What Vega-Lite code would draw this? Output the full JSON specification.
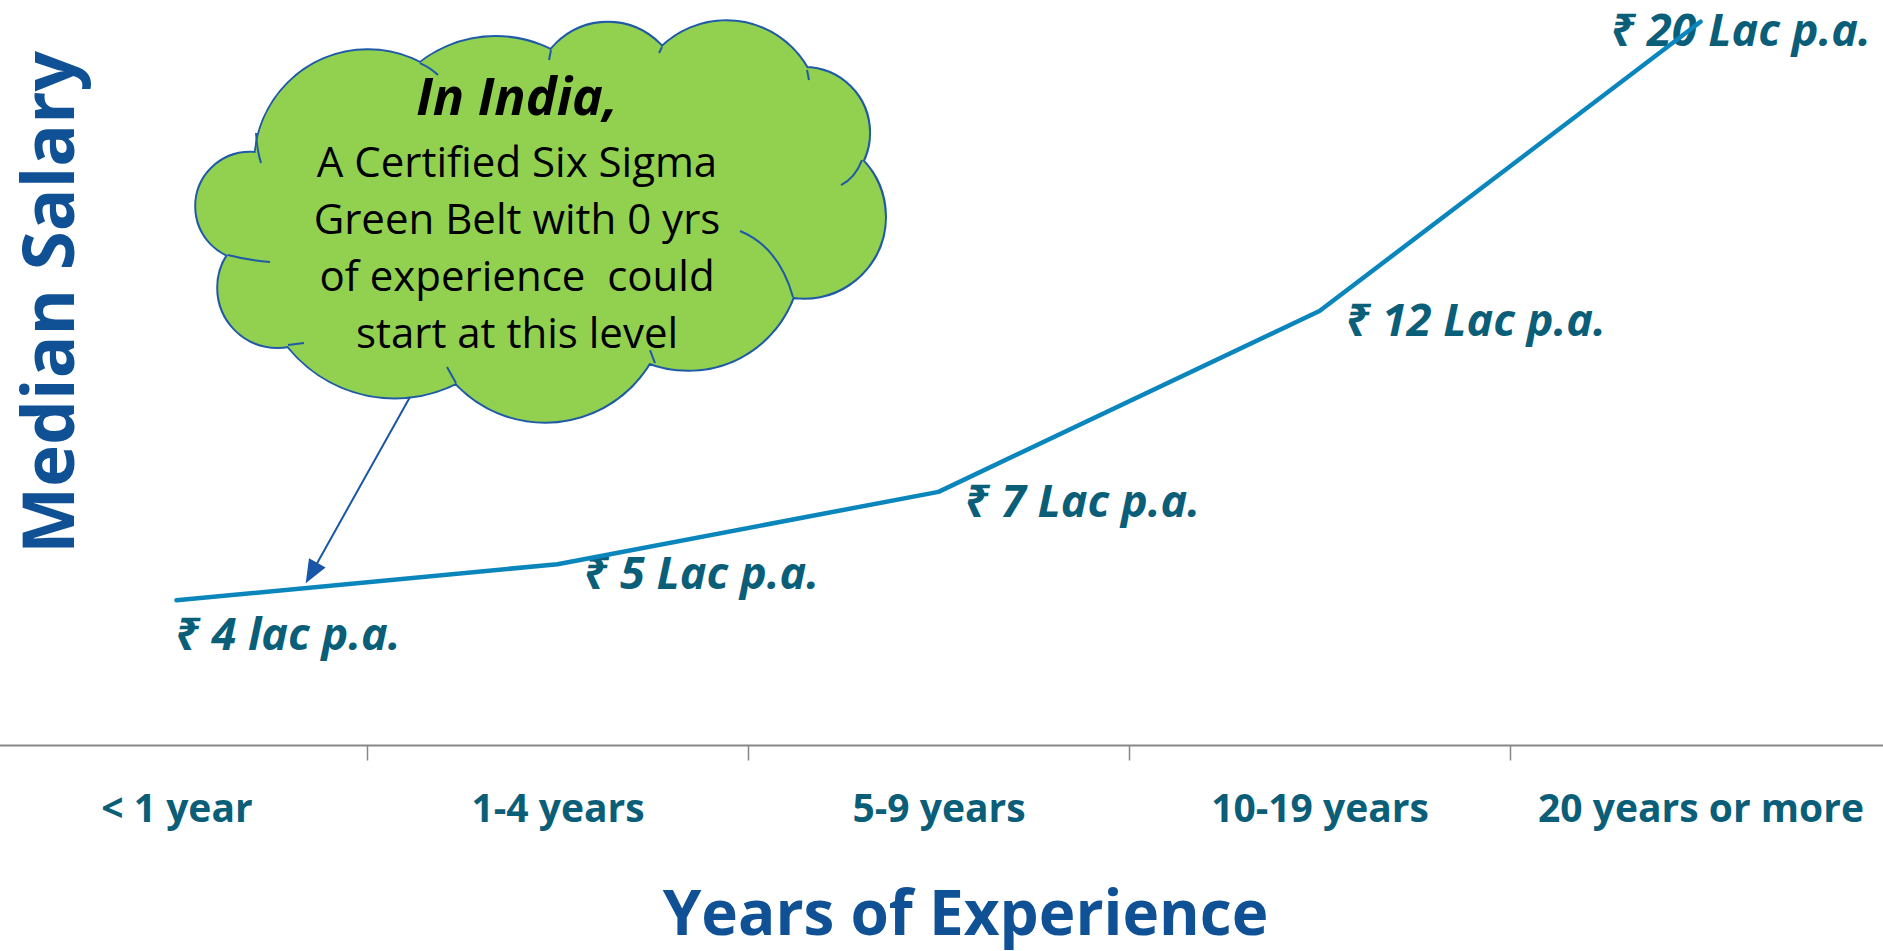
{
  "$schema": "https://vega.github.io/schema/vega-lite/v6.json",
  "width": 1905,
  "height": 745,
  "autosize": "none",
  "padding": {"left": -14, "right": -8, "top": 0, "bottom": 206},
  "background": "white",
  "config": {"view": {"stroke": null}, "font": "Open Sans"},
  "datasets": {
    "salary": [
      {"exp": "< 1 year", "salary": 4, "label": "₹ 4 lac p.a."},
      {"exp": "1-4 years", "salary": 5, "label": "₹ 5 Lac p.a."},
      {"exp": "5-9 years", "salary": 7, "label": "₹ 7 Lac p.a."},
      {"exp": "10-19 years", "salary": 12, "label": "₹ 12 Lac p.a."},
      {"exp": "20 years or more", "salary": 20, "label": "₹ 20 Lac p.a."}
    ],
    "note": [
      {"exp": "< 1 year", "salary": 4, "heading": "In India,", "body": ["A Certified Six Sigma", "Green Belt with 0 yrs", "of experience \u00a0could", "start at this level"]}
    ]
  },
  "encoding": {
    "x": {
      "field": "exp", "type": "nominal",
      "sort": ["< 1 year", "1-4 years", "5-9 years", "10-19 years", "20 years or more"],
      "scale": {"type": "band", "paddingInner": 0, "paddingOuter": 0},
      "axis": {
        "orient": "bottom", "domainColor": "#878787", "domainWidth": 2,
        "tickColor": "#878787", "tickWidth": 1.5, "tickSize": 15, "tickBand": "extent",
        "labelFont": "Open Sans", "labelFontSize": 39, "labelFontWeight": "bold",
        "labelColor": "#0b5e78", "labelPadding": 61, "labelBaseline": "alphabetic",
        "labelAngle": 0, "labelLimit": 1000, "labelOverlap": false, "grid": false,
        "title": "Years of Experience", "titleFont": "Open Sans", "titleFontSize": 62,
        "titleFontWeight": "bold", "titleColor": "#0f5194", "titleX": 979, "titleY": 189,
        "titleAlign": "center", "titleBaseline": "alphabetic", "titleLimit": 2000
      }
    },
    "y": {
      "field": "salary", "type": "quantitative",
      "scale": {"domain": [0, 20.6], "nice": false, "zero": true},
      "axis": {
        "domain": false, "ticks": false, "labels": false, "grid": false,
        "title": "Median Salary", "titleFont": "Open Sans", "titleFontSize": 71,
        "titleFontWeight": "bold", "titleColor": "#0f5194", "titleAngle": -90,
        "titleX": 87, "titleY": 302, "titleAlign": "center", "titleBaseline": "alphabetic",
        "titleLimit": 2000
      }
    }
  },
  "layer": [
    {
      "data": {"name": "note"},
      "mark": {
        "type": "point", "filled": true, "opacity": 1, "size": 4,
        "fill": "#92d050", "stroke": "#1f5aa6", "strokeWidth": 4,
        "shape": "M19.7,-394.2 A53.5,53.5 0 1 0 126.7,-394.2 A53.5,53.5 0 1 0 19.7,-394.2 Z M41.7,-312.6 A59.3,59.3 0 1 0 160.3,-312.6 A59.3,59.3 0 1 0 41.7,-312.6 Z M81.8,-339.4 A136.5,136.5 0 1 0 354.8,-339.4 A136.5,136.5 0 1 0 81.8,-339.4 Z M246.7,-300.5 A121.9,121.9 0 1 0 490.5,-300.5 A121.9,121.9 0 1 0 246.7,-300.5 Z M400.4,-342 A111.5,111.5 0 1 0 623.4,-342 A111.5,111.5 0 1 0 400.4,-342 Z M546.3,-383.7 A81.1,81.1 0 1 0 708.5,-383.7 A81.1,81.1 0 1 0 546.3,-383.7 Z M563.2,-467.7 A64.7,64.7 0 1 0 692.6,-467.7 A64.7,64.7 0 1 0 563.2,-467.7 Z M456.8,-486 A93,93 0 1 0 642.8,-486 A93,93 0 1 0 456.8,-486 Z M358.5,-504.7 A72.8,72.8 0 1 0 504.1,-504.7 A72.8,72.8 0 1 0 358.5,-504.7 Z M195.9,-439.9 A123.4,123.4 0 1 0 442.7,-439.9 A123.4,123.4 0 1 0 195.9,-439.9 Z M78.8,-437.4 A112.6,112.6 0 1 0 304,-437.4 A112.6,112.6 0 1 0 78.8,-437.4 Z M113.5,-380.3 A250,130 0 1 0 613.5,-380.3 A250,130 0 1 0 113.5,-380.3 Z"
      }
    },
    {
      "data": {"name": "note"},
      "mark": {
        "type": "point", "filled": true, "opacity": 1, "size": 4,
        "fill": "#92d050", "strokeWidth": 0,
        "shape": "M19.7,-394.2 A53.5,53.5 0 1 0 126.7,-394.2 A53.5,53.5 0 1 0 19.7,-394.2 Z M41.7,-312.6 A59.3,59.3 0 1 0 160.3,-312.6 A59.3,59.3 0 1 0 41.7,-312.6 Z M81.8,-339.4 A136.5,136.5 0 1 0 354.8,-339.4 A136.5,136.5 0 1 0 81.8,-339.4 Z M246.7,-300.5 A121.9,121.9 0 1 0 490.5,-300.5 A121.9,121.9 0 1 0 246.7,-300.5 Z M400.4,-342 A111.5,111.5 0 1 0 623.4,-342 A111.5,111.5 0 1 0 400.4,-342 Z M546.3,-383.7 A81.1,81.1 0 1 0 708.5,-383.7 A81.1,81.1 0 1 0 546.3,-383.7 Z M563.2,-467.7 A64.7,64.7 0 1 0 692.6,-467.7 A64.7,64.7 0 1 0 563.2,-467.7 Z M456.8,-486 A93,93 0 1 0 642.8,-486 A93,93 0 1 0 456.8,-486 Z M358.5,-504.7 A72.8,72.8 0 1 0 504.1,-504.7 A72.8,72.8 0 1 0 358.5,-504.7 Z M195.9,-439.9 A123.4,123.4 0 1 0 442.7,-439.9 A123.4,123.4 0 1 0 195.9,-439.9 Z M78.8,-437.4 A112.6,112.6 0 1 0 304,-437.4 A112.6,112.6 0 1 0 78.8,-437.4 Z M113.5,-380.3 A250,130 0 1 0 613.5,-380.3 A250,130 0 1 0 113.5,-380.3 Z"
      }
    },
    {
      "data": {"name": "note"},
      "mark": {
        "type": "point", "filled": false, "opacity": 1, "size": 4,
        "stroke": "#1f5aa6", "strokeWidth": 2,
        "shape": "M563.5,-369.3 Q602.5,-353.3 616.5,-303.3 M664.5,-415.3 Q678.5,-422.3 685.5,-440.3 M243.5,-537.3 Q254.5,-532.3 261.5,-525.3 M51.5,-345.3 Q70,-340.3 93.5,-338.3 M79.5,-467.3 Q80.5,-450 84.5,-437.3 M270.5,-233.3 L279.5,-217.3 M111.5,-255.3 L127.5,-257.3 M473.5,-250.3 L478.5,-237.3 M374.5,-550.3 L372.5,-540.3 M485.5,-553.3 L482.5,-547.3 M630.5,-530.3 L632.5,-520.3"
      }
    },
    {
      "data": {"name": "note"},
      "mark": {
        "type": "point", "filled": true, "opacity": 1, "size": 4,
        "fill": "#1a56a8", "stroke": "#1a56a8", "strokeWidth": 2,
        "shape": "M233.5,-203.3 L140.3,-36.7 M130.5,-19.3 L147.3,-32.8 L133.3,-40.6 Z"
      }
    },
    {
      "data": {"name": "note"},
      "mark": {
        "type": "text", "align": "center", "baseline": "alphabetic",
        "dx": 340.5, "dy": -485.3, "font": "Open Sans", "fontSize": 52,
        "fontWeight": "bold", "fontStyle": "italic", "color": "#000000"
      },
      "encoding": {"text": {"field": "heading"}}
    },
    {
      "data": {"name": "note"},
      "mark": {
        "type": "text", "align": "center", "baseline": "alphabetic",
        "dx": 340.5, "dy": -423.6, "font": "Open Sans", "fontSize": 42,
        "lineHeight": 57, "color": "#000000"
      },
      "encoding": {"text": {"field": "body"}}
    },
    {
      "data": {"name": "salary"},
      "transform": [{"filter": "datum.exp === '< 1 year'"}],
      "mark": {
        "type": "text", "align": "left", "baseline": "alphabetic", "dx": -1.5, "dy": 50,
        "font": "'Open Sans', 'Noto Sans', sans-serif", "fontSize": 45, "fontWeight": "bold", "fontStyle": "italic",
        "color": "#0b5e78"
      },
      "encoding": {"text": {"field": "label"}}
    },
    {
      "data": {"name": "salary"},
      "transform": [{"filter": "datum.exp !== '< 1 year' && datum.exp !== '20 years or more'"}],
      "mark": {
        "type": "text", "align": "left", "baseline": "alphabetic", "dx": 26, "dy": 25,
        "font": "'Open Sans', 'Noto Sans', sans-serif", "fontSize": 45, "fontWeight": "bold", "fontStyle": "italic",
        "color": "#0b5e78"
      },
      "encoding": {"text": {"field": "label"}}
    },
    {
      "data": {"name": "salary"},
      "transform": [{"filter": "datum.exp === '20 years or more'"}],
      "mark": {
        "type": "text", "align": "left", "baseline": "alphabetic", "dx": -90, "dy": 24,
        "font": "'Open Sans', 'Noto Sans', sans-serif", "fontSize": 45, "fontWeight": "bold", "fontStyle": "italic",
        "color": "#0b5e78"
      },
      "encoding": {"text": {"field": "label"}}
    },
    {
      "data": {"name": "salary"},
      "mark": {"type": "line", "color": "#0a86bd", "strokeWidth": 4.5, "strokeCap": "round", "strokeJoin": "round"}
    }
  ]
}
